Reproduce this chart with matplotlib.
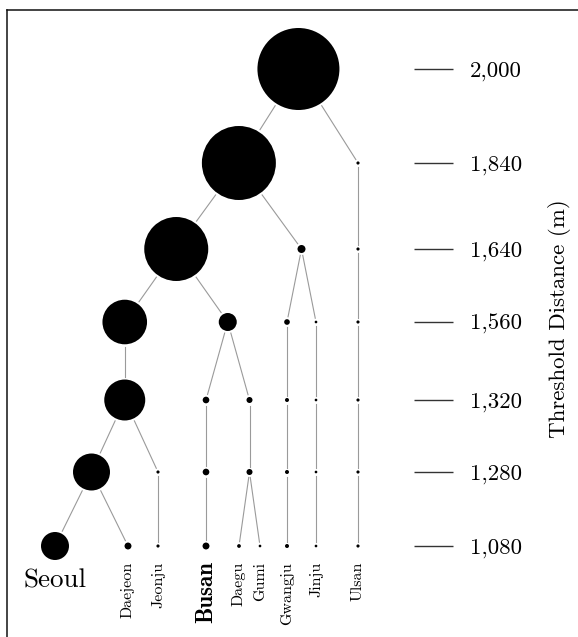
import numpy as np
import matplotlib.pyplot as plt
from matplotlib.lines import Line2D

plt.rcParams['font.family'] = ['cmr10', 'DejaVu Serif']
plt.rcParams['axes.unicode_minus'] = False

# Cities and the distance thresholds at which clusters are formed
cities = ['Seoul', 'Daejeon', 'Jeonju', 'Busan', 'Daegu', 'Gumi',
          'Gwangju', 'Jinju', 'Ulsan']
thresholds = [1080, 1280, 1320, 1560, 1640, 1840, 2000]

# Clusters present at each threshold (bottom to top)
clusters = [
    [['Seoul'], ['Daejeon'], ['Jeonju'], ['Busan'], ['Daegu'], ['Gumi'],
     ['Gwangju'], ['Jinju'], ['Ulsan']],
    [['Seoul', 'Daejeon'], ['Jeonju'], ['Busan'], ['Daegu', 'Gumi'],
     ['Gwangju'], ['Jinju'], ['Ulsan']],
    [['Seoul', 'Daejeon', 'Jeonju'], ['Busan'], ['Daegu', 'Gumi'],
     ['Gwangju'], ['Jinju'], ['Ulsan']],
    [['Seoul', 'Daejeon', 'Jeonju'], ['Busan', 'Daegu', 'Gumi'],
     ['Gwangju'], ['Jinju'], ['Ulsan']],
    [['Seoul', 'Daejeon', 'Jeonju', 'Busan', 'Daegu', 'Gumi'],
     ['Gwangju', 'Jinju'], ['Ulsan']],
    [['Seoul', 'Daejeon', 'Jeonju', 'Busan', 'Daegu', 'Gumi',
      'Gwangju', 'Jinju'], ['Ulsan']],
    [cities],
]

# Relative area of each cluster (same order as above)
cluster_area = [
    [196, 12, 2.5, 12, 3.5, 1.8, 4, 1.8, 2.5],
    [342, 2.5, 11, 9, 4, 1.8, 2.5],
    [420, 11, 9, 4, 1.8, 2.5],
    [497, 81, 8, 1.8, 2.5],
    [1024, 16, 2.5],
    [1369, 2.5],
    [1681],
]

# layout: column of each city and row of each threshold (pixel units)
leaf_x = [55, 128, 158, 206, 239, 260, 287, 316, 358]
row_y = [546, 472, 400, 322, 249, 163, 69]

W, H = 578, 637
fig = plt.figure(figsize=(W / 100, H / 100), dpi=100)
ax = fig.add_axes([0, 0, 414 / W, 1])
ax.set_xlim(0, 414)
ax.set_ylim(H, 0)

# work out node positions: leaves from columns, clusters at the mean of children
node_x = [list(leaf_x)]
edges = []
for lvl in range(1, len(clusters)):
    xs = []
    for j, members in enumerate(clusters[lvl]):
        kids = [k for k, c in enumerate(clusters[lvl - 1]) if set(c) <= set(members)]
        xs.append(np.mean([node_x[lvl - 1][k] for k in kids]))
        for k in kids:
            edges.append(((lvl, j), (lvl - 1, k)))
    node_x.append(xs)

gap = 2.5
for (pl, pj), (cl, cj) in edges:
    p = np.array([node_x[pl][pj], row_y[pl]])
    c = np.array([node_x[cl][cj], row_y[cl]])
    u = (c - p) / np.linalg.norm(c - p)
    a = p + u * (np.sqrt(cluster_area[pl][pj]) + gap)
    b = c - u * (np.sqrt(cluster_area[cl][cj]) + gap)
    ax.plot([a[0], b[0]], [a[1], b[1]], color='#9a9a9a', lw=0.8, zorder=1)

for lvl in range(len(clusters)):
    r = np.sqrt(cluster_area[lvl])
    s = (2 * r * 0.72) ** 2
    ax.scatter(node_x[lvl], [row_y[lvl]] * len(r), s=s, c='black',
               edgecolors='none', zorder=2)

# city labels under the bottom row
for name, x in zip(cities, leaf_x):
    if name == 'Seoul':
        ax.text(x, row_y[0] + 23, name, fontsize=19.5, ha='center', va='top')
    elif name == 'Busan':
        ax.text(x, row_y[0] + 15, name, fontsize=16.5, family='cmb10',
                rotation=90, ha='center', va='top')
    else:
        ax.text(x, row_y[0] + 16, name, fontsize=11.5, rotation=90,
                ha='center', va='top')

# threshold axis on the right
for sp in ax.spines.values():
    sp.set_visible(False)
ax.set_xticks([])
ax.yaxis.tick_right()
ax.set_yticks(row_y)
ax.set_yticklabels([f'{t:,}' for t in thresholds])
ax.tick_params(axis='y', direction='out', length=28, width=1, color='#333333',
               pad=12, labelsize=16.5)
ax.yaxis.set_label_position('right')
ax.set_ylabel('Threshold Distance (m)', fontsize=16.5, labelpad=19)

# frame on the top and left
fig.add_artist(Line2D([7 / W, 7 / W], [0, 1 - 9.5 / H], color='#111111', lw=1.1))
fig.add_artist(Line2D([7 / W, 1], [1 - 9.5 / H, 1 - 9.5 / H], color='#111111', lw=1.1))

fig.savefig('out.png', dpi=100)
